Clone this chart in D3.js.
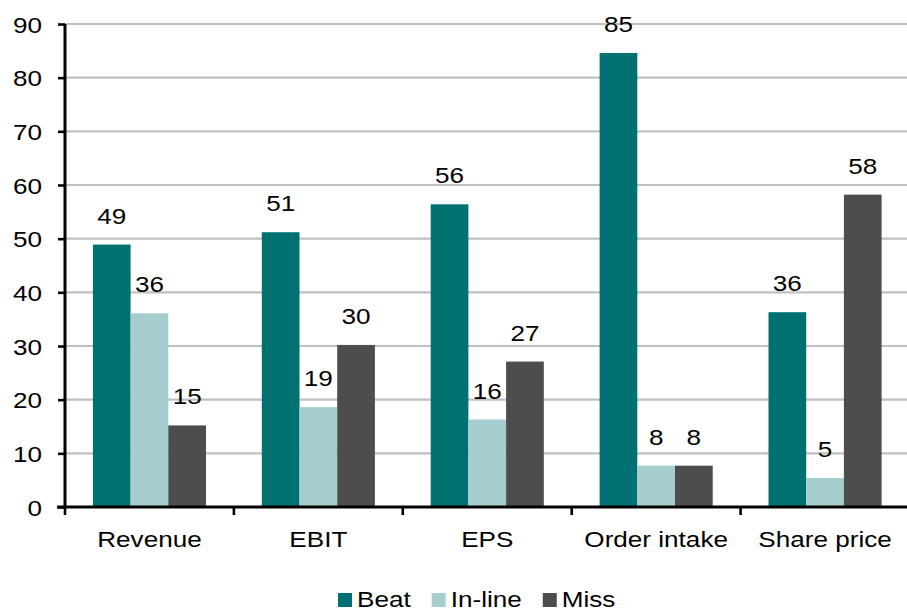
<!DOCTYPE html>
<html>
<head>
<meta charset="utf-8">
<script src="https://cdn.jsdelivr.net/npm/d3@7"></script>
<style>
  html, body { margin: 0; padding: 0; background: #fff; }
  svg { display: block; }
  text { font-family: "Liberation Sans", Arial, sans-serif; fill: #000; }
</style>
</head>
<body>
<svg id="chart" width="907" height="612"></svg>
<script>
// Share of companies beating, in line with, or missing consensus (%)
const categories = ["Revenue", "EBIT", "EPS", "Order intake", "Share price"];
const seriesNames = ["Beat", "In-line", "Miss"];
const beat   = [48.9, 51.2, 56.4, 84.6, 36.3];
const inline = [36.1, 18.6, 16.3, 7.7, 5.4];
const miss   = [15.2, 30.2, 27.1, 7.7, 58.2];
const yTicks = [0, 10, 20, 30, 40, 50, 60, 70, 80, 90];
const colors = ["#007170", "#a6cecf", "#4d4d4d"];

const seriesValues = [beat, inline, miss];
const rows = categories.map((c, i) => ({
  category: c,
  values: seriesNames.map((s, j) => ({ series: s, value: seriesValues[j][i], color: colors[j] }))
}));

const svg = d3.select("#chart");
const W = 907;
const margin = { left: 65, top: 24 };
const plotRight = 909.5;
const stretch = 1.16;   // horizontal stretch of all lettering
const fontSize = 22.5;

const x0 = d3.scaleBand().domain(categories).range([margin.left, plotRight]).padding(0);
const x1 = d3.scaleBand().domain(seriesNames).range([0, x0.bandwidth()])
  .paddingInner(0).paddingOuter(0.74);
const y = d3.scaleLinear().domain([0, 90]).range([507, margin.top]);

// Gridlines
svg.append("g")
  .selectAll("line")
  .data(yTicks.filter(t => t > 0))
  .join("line")
  .attr("x1", margin.left).attr("x2", W)
  .attr("y1", d => y(d)).attr("y2", d => y(d))
  .attr("stroke", "#c0c0c0").attr("stroke-width", 2.2);

// Bars
const groups = svg.append("g")
  .selectAll("g")
  .data(rows)
  .join("g")
  .attr("transform", d => `translate(${x0(d.category)},0)`);

groups.selectAll("rect")
  .data(d => d.values)
  .join("rect")
  .attr("x", d => x1(d.series))
  .attr("width", x1.bandwidth())
  .attr("y", d => y(d.value))
  .attr("height", d => y(0) - y(d.value))
  .attr("fill", d => d.color);

// Value labels
groups.selectAll("text")
  .data(d => d.values)
  .join("text")
  .attr("text-anchor", "middle")
  .attr("font-size", fontSize)
  .attr("transform", d => `translate(${x1(d.series) + x1.bandwidth() / 2},${y(d.value) - 21}) scale(${stretch},1)`)
  .text(d => d3.format(".0f")(d.value));

// Y axis
const yAxis = svg.append("g")
  .attr("transform", `translate(${margin.left},0)`)
  .call(d3.axisLeft(y).tickValues(yTicks).tickSize(7).tickPadding(0).tickFormat(d3.format("d")));
yAxis.select(".domain").attr("stroke", "#000").attr("stroke-width", 3)
  .attr("d", `M0,${y(90)}V${y(0)}`);
yAxis.selectAll(".tick line").attr("stroke", "#000").attr("stroke-width", 2.6);
yAxis.selectAll(".tick text")
  .attr("font-size", fontSize)
  .attr("font-family", "Liberation Sans, Arial, sans-serif")
  .attr("fill", "#000")
  .attr("x", -23 / stretch)
  .attr("dy", "0.36em")
  .attr("transform", `scale(${stretch},1)`);

// X axis with ticks at category boundaries
const xAxisG = svg.append("g");
xAxisG.append("line")
  .attr("x1", margin.left - 8).attr("x2", W)
  .attr("y1", y(0)).attr("y2", y(0))
  .attr("stroke", "#000").attr("stroke-width", 3);
xAxisG.selectAll("line.tick")
  .data(categories)
  .join("line")
  .attr("class", "tick")
  .attr("x1", d => x0(d)).attr("x2", d => x0(d))
  .attr("y1", y(0)).attr("y2", y(0) + 8)
  .attr("stroke", "#000").attr("stroke-width", 2.6);
xAxisG.selectAll("text")
  .data(categories)
  .join("text")
  .attr("text-anchor", "middle")
  .attr("font-size", fontSize)
  .attr("transform", d => `translate(${x0(d) + x0.bandwidth() / 2},547) scale(${stretch},1)`)
  .text(d => d);

// Legend
const legend = svg.append("g");
let lx = 338;
seriesNames.forEach((s, i) => {
  legend.append("rect")
    .attr("x", lx).attr("y", 593)
    .attr("width", 14).attr("height", 14)
    .attr("fill", colors[i]);
  const t = legend.append("text")
    .attr("font-size", fontSize)
    .attr("transform", `translate(${lx + 19},607) scale(${stretch},1)`)
    .text(s);
  const w = t.node().getComputedTextLength() * stretch;
  lx += 19 + w + 21;
});
</script>
</body>
</html>
